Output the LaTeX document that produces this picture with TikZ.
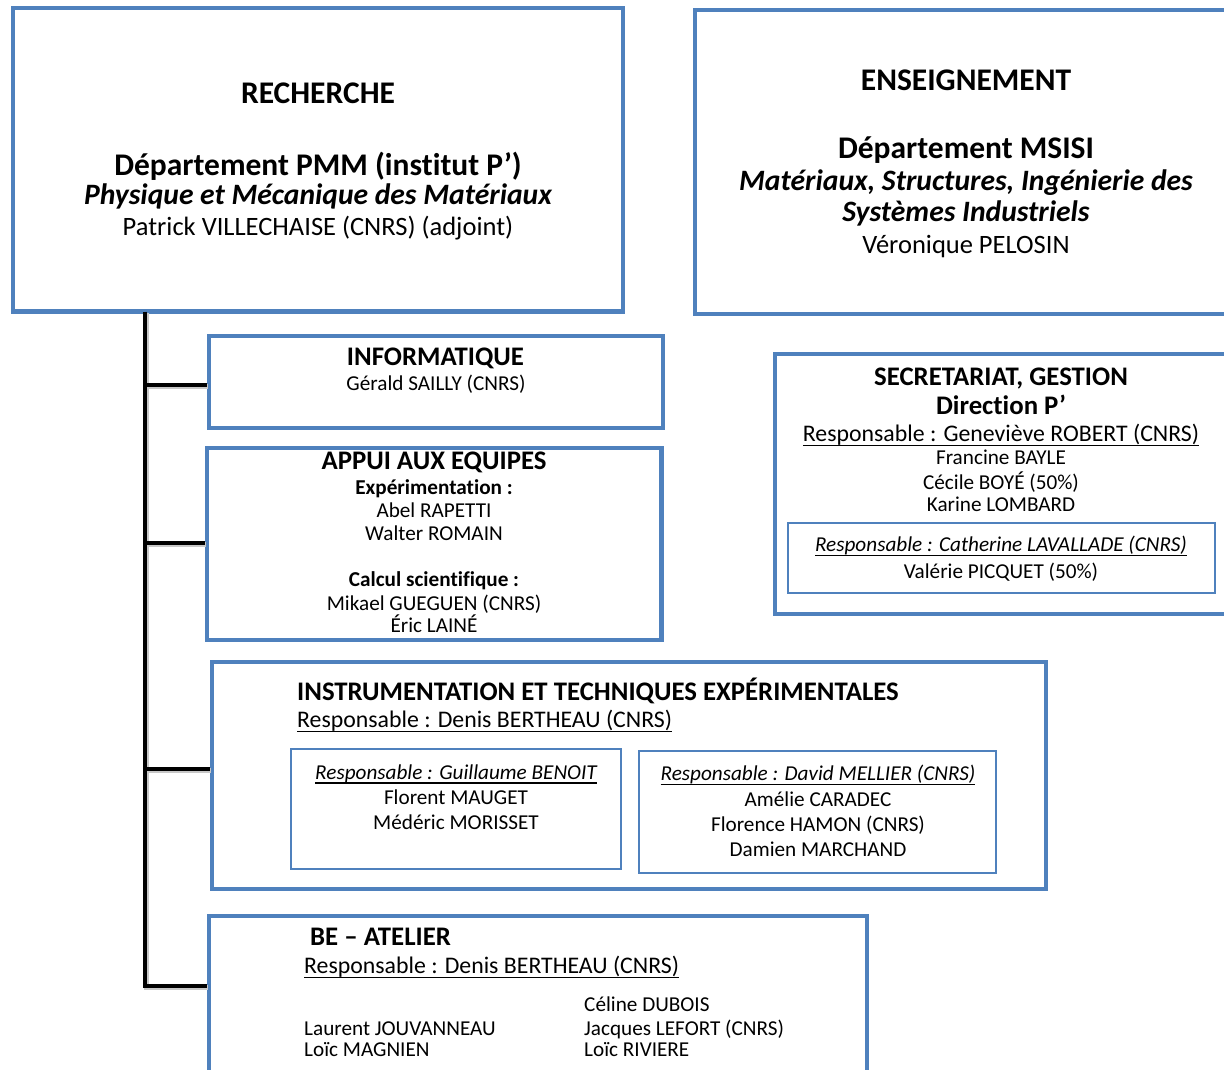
\documentclass[tikz,border=0pt]{standalone}
\usepackage{fontspec}
\setmainfont{Carlito}[Ligatures=CommonOff]

\definecolor{bleuoffice}{RGB}{79,129,189}

% soulignement proche de la ligne de base
\newcommand\souligne[1]{\setbox0\hbox{#1}\rlap{\rule[-0.2em]{\wd0}{0.06em}}\box0}

% traits de l'organigramme (appele deux fois: ombre puis trait)
\newcommand\liens[1]{%
  \draw[lien,#1] (tronc) |- (b4);
  \draw[lien,#1] (b1 -| tronc) -- (b1);
  \draw[lien,#1] (b2 -| tronc) -- (b2);
  \draw[lien,#1] (b3 -| tronc) -- (b3);
}

\begin{document}
\begin{tikzpicture}[x=1pt,y=-1pt,
  cadre/.style={draw=bleuoffice, line width=4.5pt, inner sep=0pt},
  souscadre/.style={draw=bleuoffice, line width=2.5pt, inner sep=0pt},
  lien/.style={line width=4.5pt},
  titre/.style={anchor=base, inner sep=0pt, font=\bfseries\fontsize{31.5}{36}\selectfont},
  titrei/.style={titre, font=\bfseries\itshape\fontsize{29.6}{34}\selectfont},
  texte/.style={anchor=base, inner sep=0pt, font=\fontsize{26.5}{30}\selectfont},
  entete/.style={anchor=base, inner sep=0pt, font=\bfseries\fontsize{26.8}{30}\selectfont},
  resp/.style={anchor=base, inner sep=0pt, font=\fontsize{23.8}{27}\selectfont},
  petit/.style={anchor=base, inner sep=0pt, font=\fontsize{21.2}{24}\selectfont},
  petitb/.style={petit, font=\bfseries\fontsize{21.2}{24}\selectfont},
  petiti/.style={petit, font=\itshape\fontsize{21.2}{24}\selectfont}]

\clip (0,0) rectangle (1224,1069);
\fill[white] (0,0) rectangle (1224,1069);

% les cadres
\node[cadre, minimum width=610pt, minimum height=303.5pt] (rech) at (318,159.75) {};
\node[cadre, minimum width=565pt, minimum height=304pt] (ens) at (977.5,162) {};
\node[cadre, minimum width=454pt, minimum height=92pt] (info) at (436,382) {};
\node[cadre, minimum width=454.5pt, minimum height=192pt] (appui) at (434.25,544) {};
\node[cadre, minimum width=485pt, minimum height=260pt] (secr) at (1017.5,484) {};
\node[souscadre, minimum width=427pt, minimum height=70pt] (compta) at (1001.5,558) {};
\node[cadre, minimum width=834pt, minimum height=227pt] (instr) at (629,775.5) {};
\node[souscadre, minimum width=330pt, minimum height=120pt] (instrg) at (456,809) {};
\node[souscadre, minimum width=357pt, minimum height=122pt] (instrd) at (817.5,812) {};
\node[cadre, minimum width=658pt, minimum height=204pt] (be) at (538,1018) {};

% points de raccordement
\coordinate (tronc) at (145,311.5);
\coordinate (b1) at ([yshift=-3pt]info.west);
\coordinate (b2) at ([yshift=1pt]appui.west);
\coordinate (b3) at ([yshift=6.5pt]instr.west);
\coordinate (b4) at ([yshift=32pt]be.west);

\begin{scope}[transform canvas={shift={(1.5pt,-1.5pt)}}]
  \liens{draw=black!22}
\end{scope}
\liens{draw=black}

% RECHERCHE
\node[titre] (rech-a) at (318,103.5) {RECHERCHE};
\node[titre] (rech-b) at (318,175) {Département PMM (institut P’)};
\node[titrei] (rech-c) at (318,204.5) {Physique et Mécanique des Matériaux};
\node[texte] (rech-d) at (318,235) {Patrick VILLECHAISE (CNRS) (adjoint)};

% ENSEIGNEMENT
\node[titre] (ens-a) at (966,90) {ENSEIGNEMENT};
\node[titre] (ens-b) at (966,158) {Département MSISI};
\node[titrei] (ens-c) at (966,190) {Matériaux, Structures, Ingénierie des};
\node[titrei] (ens-d) at (966,221.7) {Systèmes Industriels};
\node[texte] (ens-e) at (966,253) {Véronique PELOSIN};

% INFORMATIQUE
\node[entete] (info-a) at (435.5,365.7) {INFORMATIQUE};
\node[petit] (info-b) at (436,390.7) {Gérald SAILLY (CNRS)};

% APPUI AUX EQUIPES
\node[entete] (appui-a) at (434,469.3) {APPUI AUX EQUIPES};
\node[petitb] (appui-b) at (434,494.3) {Expérimentation~:};
\node[petit] (appui-c) at (434,517.3) {Abel RAPETTI};
\node[petit] (appui-d) at (434,540.7) {Walter ROMAIN};
\node[petitb] (appui-e) at (434,586.7) {Calcul scientifique~:};
\node[petit] (appui-f) at (434,610.7) {Mikael GUEGUEN (CNRS)};
\node[petit] (appui-g) at (434,632.7) {Éric LAINÉ};

% SECRETARIAT
\node[entete] (secr-a) at (1001,385.7) {SECRETARIAT, GESTION};
\node[entete] (secr-b) at (1001,414) {Direction P’};
\node[resp] (secr-c) at (1001,441.7) {\souligne{Responsable : Geneviève ROBERT (CNRS)}};
\node[petit] (secr-d) at (1001,464.3) {Francine BAYLE};
\node[petit] (secr-e) at (1001,489) {Cécile BOYÉ (50\%)};
\node[petit] (secr-f) at (1001,511.7) {Karine LOMBARD};
\node[petiti] (compta-a) at (1001,551.7) {\souligne{Responsable : Catherine LAVALLADE (CNRS)}};
\node[petit] (compta-b) at (1001,578.3) {Valérie PICQUET (50\%)};

% INSTRUMENTATION
\node[entete, anchor=base west] (instr-a) at (297,700) {INSTRUMENTATION ET TECHNIQUES EXPÉRIMENTALES};
\node[resp, anchor=base west] (instr-b) at (297,727.3) {\souligne{Responsable : Denis BERTHEAU (CNRS)}};
\node[petiti] (instrg-a) at (456,779.3) {\souligne{Responsable : Guillaume BENOIT}};
\node[petit] (instrg-b) at (456,804) {Florent MAUGET};
\node[petit] (instrg-c) at (456,829) {Médéric MORISSET};
\node[petiti] (instrd-a) at (818,780.7) {\souligne{Responsable : David MELLIER (CNRS)}};
\node[petit] (instrd-b) at (818,806) {Amélie CARADEC};
\node[petit] (instrd-c) at (818,831.7) {Florence HAMON (CNRS)};
\node[petit] (instrd-d) at (818,856.7) {Damien MARCHAND};

% BE - ATELIER
\node[entete, anchor=base west] (be-a) at (310,945) {BE – ATELIER};
\node[resp, anchor=base west] (be-b) at (304,973.3) {\souligne{Responsable : Denis BERTHEAU (CNRS)}};
\node[petit, anchor=base west] (be-c) at (584,1011.7) {Céline DUBOIS};
\node[petit, anchor=base west] (be-d) at (304,1035) {Laurent JOUVANNEAU};
\node[petit, anchor=base west] (be-e) at (584,1035) {Jacques LEFORT (CNRS)};
\node[petit, anchor=base west] (be-f) at (304,1056.7) {Loïc MAGNIEN};
\node[petit, anchor=base west] (be-g) at (584,1056.7) {Loïc RIVIERE};

\end{tikzpicture}
\end{document}
